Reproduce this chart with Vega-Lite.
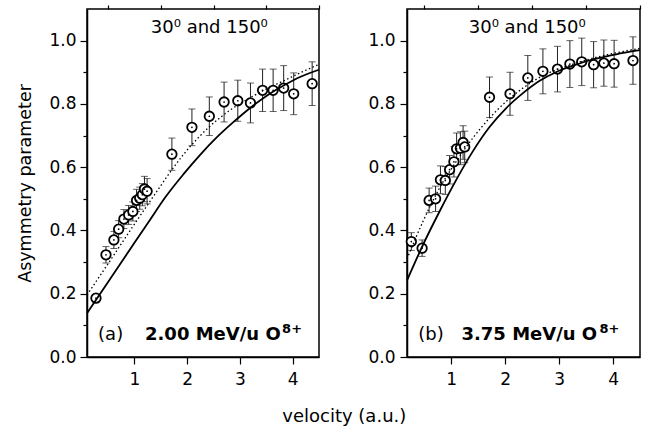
{
  "$schema": "https://vega.github.io/schema/vega-lite/v6.json",
  "background": "white",
  "padding": {"left": 16, "top": 3, "right": 0, "bottom": 0},
  "spacing": 43,
  "align": "none",
  "bounds": "full",
  "title": {"text": "velocity (a.u.)", "orient": "bottom", "anchor": "middle", "fontSize": 18, "fontWeight": "normal", "font": "DejaVu Sans", "color": "black", "offset": 20, "dx": 14},
  "config": {
    "view": {"stroke": "black", "strokeWidth": 1.5},
    "axis": {"grid": false, "labelFont": "DejaVu Sans", "labelFontSize": 17, "labelColor": "black", "tickColor": "black", "domainColor": "black", "domainWidth": 1.5, "tickWidth": 1.2, "titleFont": "DejaVu Sans", "titleFontSize": 17.5, "titleFontWeight": "normal", "titleColor": "black"}
  },
  "datasets": {
    "ptsA": [
      {"v": 0.27, "a": 0.186, "e": 0.012}, {"v": 0.46, "a": 0.323, "e": 0.026}, {"v": 0.61, "a": 0.370, "e": 0.027},
      {"v": 0.70, "a": 0.404, "e": 0.027}, {"v": 0.80, "a": 0.436, "e": 0.03}, {"v": 0.89, "a": 0.449, "e": 0.03},
      {"v": 0.97, "a": 0.460, "e": 0.03}, {"v": 1.04, "a": 0.495, "e": 0.035}, {"v": 1.10, "a": 0.502, "e": 0.035},
      {"v": 1.15, "a": 0.513, "e": 0.035}, {"v": 1.19, "a": 0.531, "e": 0.04}, {"v": 1.24, "a": 0.524, "e": 0.04},
      {"v": 1.71, "a": 0.641, "e": 0.051}, {"v": 2.09, "a": 0.726, "e": 0.058}, {"v": 2.42, "a": 0.761, "e": 0.061},
      {"v": 2.70, "a": 0.806, "e": 0.063}, {"v": 2.96, "a": 0.810, "e": 0.065}, {"v": 3.20, "a": 0.803, "e": 0.063},
      {"v": 3.43, "a": 0.843, "e": 0.067}, {"v": 3.63, "a": 0.843, "e": 0.067}, {"v": 3.83, "a": 0.850, "e": 0.071},
      {"v": 4.02, "a": 0.832, "e": 0.066}, {"v": 4.37, "a": 0.864, "e": 0.069}
    ],
    "ptsB": [
      {"v": 0.26, "a": 0.365, "e": 0.028}, {"v": 0.46, "a": 0.344, "e": 0.026}, {"v": 0.59, "a": 0.495, "e": 0.039},
      {"v": 0.71, "a": 0.500, "e": 0.04}, {"v": 0.80, "a": 0.560, "e": 0.044}, {"v": 0.89, "a": 0.558, "e": 0.044},
      {"v": 0.97, "a": 0.592, "e": 0.045}, {"v": 1.05, "a": 0.617, "e": 0.048}, {"v": 1.10, "a": 0.658, "e": 0.05},
      {"v": 1.17, "a": 0.660, "e": 0.052}, {"v": 1.22, "a": 0.678, "e": 0.053}, {"v": 1.25, "a": 0.664, "e": 0.05},
      {"v": 1.71, "a": 0.821, "e": 0.064}, {"v": 2.09, "a": 0.832, "e": 0.068}, {"v": 2.42, "a": 0.882, "e": 0.071},
      {"v": 2.70, "a": 0.903, "e": 0.071}, {"v": 2.97, "a": 0.910, "e": 0.072}, {"v": 3.20, "a": 0.926, "e": 0.074},
      {"v": 3.42, "a": 0.933, "e": 0.075}, {"v": 3.64, "a": 0.924, "e": 0.073}, {"v": 3.83, "a": 0.929, "e": 0.073},
      {"v": 4.02, "a": 0.927, "e": 0.074}, {"v": 4.37, "a": 0.937, "e": 0.075}
    ],
    "solidA": [
      {"v": 0.1, "a": 0.138}, {"v": 0.5, "a": 0.237}, {"v": 1.0, "a": 0.361}, {"v": 1.3, "a": 0.435}, {"v": 1.585, "a": 0.505},
      {"v": 1.93, "a": 0.578}, {"v": 2.25, "a": 0.640}, {"v": 2.56, "a": 0.694}, {"v": 2.88, "a": 0.743}, {"v": 3.2, "a": 0.788},
      {"v": 3.51, "a": 0.826}, {"v": 3.83, "a": 0.858}, {"v": 4.14, "a": 0.885}, {"v": 4.5, "a": 0.908}
    ],
    "dotA": [
      {"v": 0.1, "a": 0.196}, {"v": 0.5, "a": 0.295}, {"v": 1.0, "a": 0.42}, {"v": 1.46, "a": 0.532}, {"v": 1.68, "a": 0.585},
      {"v": 1.93, "a": 0.640}, {"v": 2.25, "a": 0.700}, {"v": 2.56, "a": 0.748}, {"v": 2.88, "a": 0.788}, {"v": 3.2, "a": 0.820},
      {"v": 3.51, "a": 0.848}, {"v": 3.83, "a": 0.873}, {"v": 4.14, "a": 0.898}, {"v": 4.5, "a": 0.925}
    ],
    "solidB": [
      {"v": 0.18, "a": 0.242}, {"v": 0.475, "a": 0.354}, {"v": 0.783, "a": 0.46}, {"v": 1.093, "a": 0.56}, {"v": 1.40, "a": 0.65},
      {"v": 1.71, "a": 0.727}, {"v": 2.02, "a": 0.787}, {"v": 2.33, "a": 0.834}, {"v": 2.64, "a": 0.873}, {"v": 2.95, "a": 0.901},
      {"v": 3.26, "a": 0.921}, {"v": 3.57, "a": 0.938}, {"v": 3.88, "a": 0.95}, {"v": 4.19, "a": 0.961}, {"v": 4.5, "a": 0.97}
    ],
    "dotB": [
      {"v": 0.18, "a": 0.31}, {"v": 0.475, "a": 0.428}, {"v": 0.783, "a": 0.534}, {"v": 1.093, "a": 0.618}, {"v": 1.40, "a": 0.692},
      {"v": 1.71, "a": 0.755}, {"v": 2.02, "a": 0.808}, {"v": 2.33, "a": 0.85}, {"v": 2.64, "a": 0.884}, {"v": 2.95, "a": 0.908},
      {"v": 3.26, "a": 0.926}, {"v": 3.57, "a": 0.942}, {"v": 3.88, "a": 0.955}, {"v": 4.19, "a": 0.966}, {"v": 4.5, "a": 0.976}
    ],
    "txtA": [
      {"k": "head", "v": 2.42, "a": 1.04, "t": "30⁰ and 150⁰"},
      {"k": "tag", "v": 0.31, "a": 0.07, "t": "(a)"},
      {"k": "ion", "v": 1.20, "a": 0.07, "t": "2.00 MeV/u O"},
      {"k": "sup", "v": 3.80, "a": 0.07, "t": "8+"}
    ],
    "txtB": [
      {"k": "head", "v": 2.41, "a": 1.04, "t": "30⁰ and 150⁰"},
      {"k": "tag", "v": 0.39, "a": 0.07, "t": "(b)"},
      {"k": "ion", "v": 1.19, "a": 0.07, "t": "3.75 MeV/u O"},
      {"k": "sup", "v": 3.75, "a": 0.07, "t": "8+"}
    ]
  },
  "hconcat": [
    {
      "width": 232, "height": 348,
      "resolve": {"axis": {"x": "independent", "y": "independent"}},
      "layer": [
        {"data": {"name": "ptsA"}, "mark": {"type": "errorbar", "ticks": {"size": 7, "thickness": 1, "color": "#222"}, "rule": {"strokeWidth": 1, "color": "#222"}},
         "encoding": {"x": {"field": "v", "type": "quantitative", "scale": {"domain": [0.1, 4.5], "nice": false, "zero": false}, "axis": null},
                      "y": {"field": "a", "type": "quantitative", "scale": {"domain": [0, 1.1], "nice": false}, "axis": null},
                      "yError": {"field": "e"}}},
        {"data": {"name": "ptsA"}, "mark": {"type": "point", "shape": "circle", "size": 90, "filled": true, "fill": "white", "stroke": "black", "strokeWidth": 1.8, "opacity": 1},
         "encoding": {"x": {"field": "v", "type": "quantitative", "axis": null}, "y": {"field": "a", "type": "quantitative", "axis": null}}},
        {"data": {"name": "solidA"}, "mark": {"type": "line", "color": "black", "strokeWidth": 1.8, "interpolate": "monotone"},
         "encoding": {"x": {"field": "v", "type": "quantitative", "axis": {"values": [1, 2, 3, 4], "tickSize": 7, "labelPadding": 7, "title": null}},
                      "y": {"field": "a", "type": "quantitative", "axis": {"values": [0, 0.2, 0.4, 0.6, 0.8, 1.0], "format": ".1f", "tickSize": 7, "labelPadding": 4, "title": "Asymmetry parameter", "titlePadding": 14}}}},
        {"data": {"name": "dotA"}, "mark": {"type": "line", "color": "black", "strokeWidth": 1.3, "strokeDash": [1.5, 2.5], "interpolate": "monotone"},
         "encoding": {"x": {"field": "v", "type": "quantitative", "axis": {"values": [0.5, 1.5, 2.5, 3.5, 4.5], "tickSize": 4, "labels": false, "domain": false, "title": null}},
                      "y": {"field": "a", "type": "quantitative", "axis": {"values": [0.1, 0.3, 0.5, 0.7, 0.9], "tickSize": 4, "labels": false, "domain": false, "title": null, "orient": "left"}}}},
        {"data": {"name": "ptsA"}, "mark": {"type": "circle", "size": 3, "color": "black", "opacity": 1},
         "encoding": {"x": {"field": "v", "type": "quantitative", "axis": null}, "y": {"field": "a", "type": "quantitative", "axis": null}}},
        {"data": {"name": "txtA"}, "transform": [{"filter": "datum.k === 'head'"}], "mark": {"type": "text", "font": "DejaVu Sans", "fontSize": 18, "align": "center", "baseline": "middle", "color": "black"},
         "encoding": {"x": {"field": "v", "type": "quantitative", "axis": null}, "y": {"field": "a", "type": "quantitative", "axis": null}, "text": {"field": "t"}}},
        {"data": {"name": "txtA"}, "transform": [{"filter": "datum.k === 'tag'"}], "mark": {"type": "text", "font": "DejaVu Sans", "fontSize": 18, "align": "left", "baseline": "middle", "color": "black"},
         "encoding": {"x": {"field": "v", "type": "quantitative", "axis": null}, "y": {"field": "a", "type": "quantitative", "axis": null}, "text": {"field": "t"}}},
        {"data": {"name": "txtA"}, "transform": [{"filter": "datum.k === 'ion'"}], "mark": {"type": "text", "font": "DejaVu Sans", "fontSize": 18, "fontWeight": "bold", "align": "left", "baseline": "middle", "color": "black"},
         "encoding": {"x": {"field": "v", "type": "quantitative", "axis": null}, "y": {"field": "a", "type": "quantitative", "axis": null}, "text": {"field": "t"}}},
        {"data": {"name": "txtA"}, "transform": [{"filter": "datum.k === 'sup'"}], "mark": {"type": "text", "font": "DejaVu Sans", "fontSize": 13, "fontWeight": "bold", "align": "left", "baseline": "middle", "dy": -6, "color": "black"},
         "encoding": {"x": {"field": "v", "type": "quantitative", "axis": null}, "y": {"field": "a", "type": "quantitative", "axis": null}, "text": {"field": "t"}}}
      ]
    },
    {
      "width": 233, "height": 348,
      "resolve": {"axis": {"x": "independent", "y": "independent"}},
      "layer": [
        {"data": {"name": "ptsB"}, "mark": {"type": "errorbar", "ticks": {"size": 7, "thickness": 1, "color": "#222"}, "rule": {"strokeWidth": 1, "color": "#222"}},
         "encoding": {"x": {"field": "v", "type": "quantitative", "scale": {"domain": [0.18, 4.5], "nice": false, "zero": false}, "axis": null},
                      "y": {"field": "a", "type": "quantitative", "scale": {"domain": [0, 1.1], "nice": false}, "axis": null},
                      "yError": {"field": "e"}}},
        {"data": {"name": "ptsB"}, "mark": {"type": "point", "shape": "circle", "size": 90, "filled": true, "fill": "white", "stroke": "black", "strokeWidth": 1.8, "opacity": 1},
         "encoding": {"x": {"field": "v", "type": "quantitative", "axis": null}, "y": {"field": "a", "type": "quantitative", "axis": null}}},
        {"data": {"name": "solidB"}, "mark": {"type": "line", "color": "black", "strokeWidth": 1.8, "interpolate": "monotone"},
         "encoding": {"x": {"field": "v", "type": "quantitative", "axis": {"values": [1, 2, 3, 4], "tickSize": 7, "labelPadding": 7, "title": null}},
                      "y": {"field": "a", "type": "quantitative", "axis": {"values": [0, 0.2, 0.4, 0.6, 0.8, 1.0], "format": ".1f", "tickSize": 7, "labelPadding": 5, "title": null}}}},
        {"data": {"name": "dotB"}, "mark": {"type": "line", "color": "black", "strokeWidth": 1.3, "strokeDash": [1.5, 2.5], "interpolate": "monotone"},
         "encoding": {"x": {"field": "v", "type": "quantitative", "axis": {"values": [0.5, 1.5, 2.5, 3.5, 4.5], "tickSize": 4, "labels": false, "domain": false, "title": null}},
                      "y": {"field": "a", "type": "quantitative", "axis": {"values": [0.1, 0.3, 0.5, 0.7, 0.9], "tickSize": 4, "labels": false, "domain": false, "title": null, "orient": "left"}}}},
        {"data": {"name": "ptsB"}, "mark": {"type": "circle", "size": 3, "color": "black", "opacity": 1},
         "encoding": {"x": {"field": "v", "type": "quantitative", "axis": null}, "y": {"field": "a", "type": "quantitative", "axis": null}}},
        {"data": {"name": "txtB"}, "transform": [{"filter": "datum.k === 'head'"}], "mark": {"type": "text", "font": "DejaVu Sans", "fontSize": 18, "align": "center", "baseline": "middle", "color": "black"},
         "encoding": {"x": {"field": "v", "type": "quantitative", "axis": null}, "y": {"field": "a", "type": "quantitative", "axis": null}, "text": {"field": "t"}}},
        {"data": {"name": "txtB"}, "transform": [{"filter": "datum.k === 'tag'"}], "mark": {"type": "text", "font": "DejaVu Sans", "fontSize": 18, "align": "left", "baseline": "middle", "color": "black"},
         "encoding": {"x": {"field": "v", "type": "quantitative", "axis": null}, "y": {"field": "a", "type": "quantitative", "axis": null}, "text": {"field": "t"}}},
        {"data": {"name": "txtB"}, "transform": [{"filter": "datum.k === 'ion'"}], "mark": {"type": "text", "font": "DejaVu Sans", "fontSize": 18, "fontWeight": "bold", "align": "left", "baseline": "middle", "color": "black"},
         "encoding": {"x": {"field": "v", "type": "quantitative", "axis": null}, "y": {"field": "a", "type": "quantitative", "axis": null}, "text": {"field": "t"}}},
        {"data": {"name": "txtB"}, "transform": [{"filter": "datum.k === 'sup'"}], "mark": {"type": "text", "font": "DejaVu Sans", "fontSize": 13, "fontWeight": "bold", "align": "left", "baseline": "middle", "dy": -6, "color": "black"},
         "encoding": {"x": {"field": "v", "type": "quantitative", "axis": null}, "y": {"field": "a", "type": "quantitative", "axis": null}, "text": {"field": "t"}}}
      ]
    }
  ]
}
